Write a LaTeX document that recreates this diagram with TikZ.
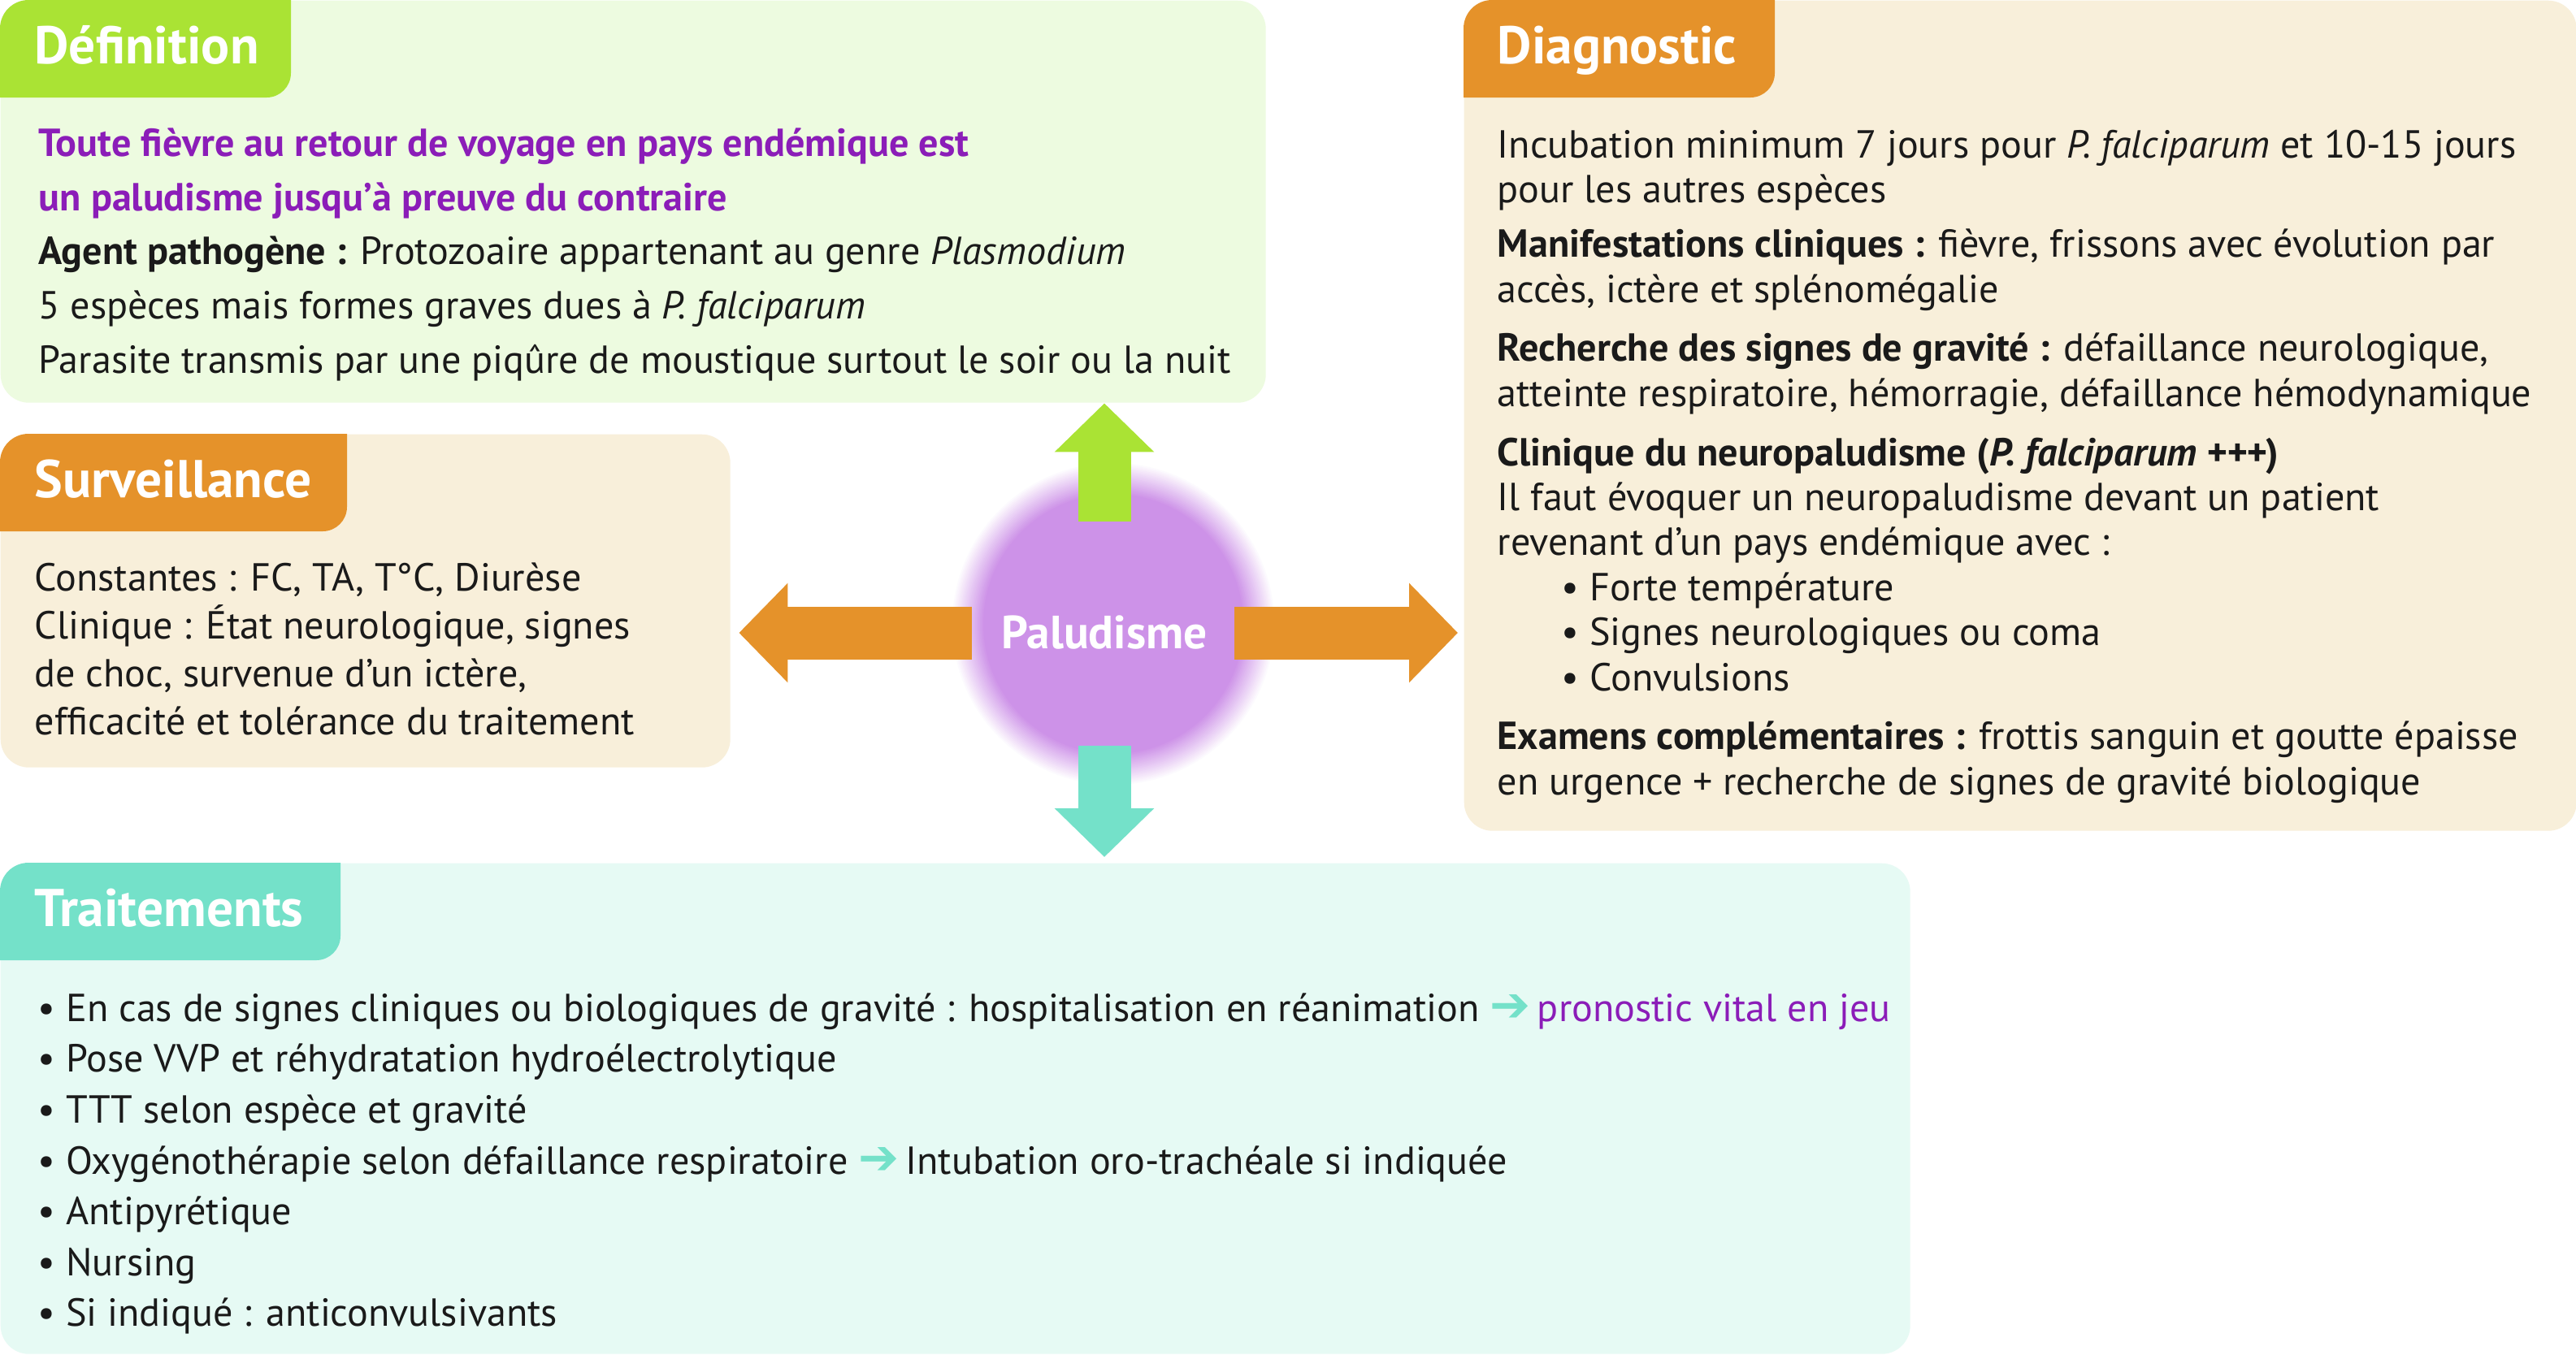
\documentclass[tikz,border=0pt]{standalone}
\usepackage{fontspec}
\setmainfont{PT Sans}
\newfontfamily\symfont{DejaVu Sans}
\usetikzlibrary{arrows.meta,positioning,calc}
\definecolor{ink}{RGB}{26,26,26}
\definecolor{defbg}{RGB}{237,251,224}
\definecolor{deftab}{RGB}{170,227,52}
\definecolor{diagbg}{RGB}{248,239,218}
\definecolor{diagtab}{RGB}{229,146,42}
\definecolor{trtbg}{RGB}{230,250,244}
\definecolor{trttab}{RGB}{116,225,201}
\definecolor{paluv}{RGB}{139,29,184}
\definecolor{halo}{RGB}{205,146,232}
\newcommand{\versarrow}{{\symfont\bfseries\fontsize{17}{15}\selectfont\color{trttab}\char"2794}}
\tikzset{
  panel/.style={rounded corners=3.5mm,anchor=north west,inner sep=0pt},
  tabtext/.style={anchor=base west,text=white,inner sep=0pt,
    font=\fontsize{18.6}{21}\selectfont\bfseries},
  body/.style={anchor=north west,inner sep=0pt,align=left,text=ink},
  fat/.style={line width=6.5mm,-{Triangle[width=11.9mm,length=6mm]}},
}
\begin{document}
\begin{tikzpicture}[x=1cm,y=-1cm]
  \path[use as bounding box,fill=white] (0,0) rectangle (31.70,16.67);
  % panels
  \node[panel,fill=defbg,minimum width=15.57cm,minimum height=4.95cm] (def) at (0,0) {};
  \node[panel,fill=diagbg,minimum width=13.69cm,minimum height=10.22cm] (diag) at (18.01,0) {};
  \node[panel,fill=diagbg,minimum width=8.98cm,minimum height=4.10cm] (surv) at (0,5.34) {};
  \node[panel,fill=trtbg,minimum width=23.50cm,minimum height=6.04cm] (trt) at (0,10.62) {};
  % tabs
  \foreach \p/\c/\w in {def/deftab/3.58,diag/diagtab/3.83,surv/diagtab/4.27,trt/trttab/4.19}{
    \begin{scope}
      \clip[rounded corners=3.5mm] (\p.north west) rectangle (\p.south east);
      \fill[\c,rounded corners=3mm] ($(\p.north west)+(-1,-1)$) rectangle ($(\p.north west)+(\w,1.20)$);
    \end{scope}
  }
  \node[tabtext] (deft) at (0.42,0.78) {Définition};
  \node[tabtext] (diagt) at (18.42,0.78) {Diagnostic};
  \node[tabtext] (survt) at (0.42,6.12) {Surveillance};
  \node[tabtext] (trtt) at (0.42,11.40) {Traitements};
  % texts
  \node[body,font=\fontsize{13.7}{19}\selectfont] (deftxt) at (0.47,1.57)
    {\textcolor{paluv}{\bfseries Toute fièvre au retour de voyage en pays endémique est}\\
     \textcolor{paluv}{\bfseries un paludisme jusqu'à preuve du contraire}\\
     \textbf{Agent pathogène :} Protozoaire appartenant au genre \textit{Plasmodium}\\
     5 espèces mais formes graves dues à \textit{P. falciparum}\\
     Parasite transmis par une piqûre de moustique surtout le soir ou la nuit};
  \node[body,font=\fontsize{13.7}{15.75}\selectfont] (diagtxt) at (18.42,1.59)
    {Incubation minimum 7 jours pour \textit{P. falciparum} et 10-15 jours\\
     pour les autres espèces\\[3.4pt]
     \textbf{Manifestations cliniques :} fièvre, frissons avec évolution par\\
     accès, ictère et splénomégalie\\[5pt]
     \textbf{Recherche des signes de gravité :} défaillance neurologique,\\
     atteinte respiratoire, hémorragie, défaillance hémodynamique\\[5pt]
     \textbf{Clinique du neuropaludisme (\textit{P. falciparum +++})}\\
     Il faut évoquer un neuropaludisme devant un patient\\
     revenant d'un pays endémique avec :\\
     \hspace*{0.79cm}• Forte température\\
     \hspace*{0.79cm}• Signes neurologiques ou coma\\
     \hspace*{0.79cm}• Convulsions\\[5pt]
     \textbf{Examens complémentaires :} frottis sanguin et goutte épaisse\\
     en urgence + recherche de signes de gravité biologique};
  \node[body,font=\fontsize{13.7}{16.8}\selectfont] (survtxt) at (0.42,6.92)
    {Constantes : FC, TA, T°C, Diurèse\\
     Clinique : État neurologique, signes\\
     de choc, survenue d'un ictère,\\
     efficacité et tolérance du traitement};
  \node[body,font=\fontsize{13.7}{17.8}\selectfont] (trttxt) at (0.46,12.22)
    {• En cas de signes cliniques ou biologiques de gravité : hospitalisation en réanimation \versarrow\,\textcolor{paluv}{pronostic vital en jeu}\\
     • Pose VVP et réhydratation hydroélectrolytique\\
     • TTT selon espèce et gravité\\
     • Oxygénothérapie selon défaillance respiratoire \versarrow\,Intubation oro-trachéale si indiquée\\
     • Antipyrétique\\
     • Nursing\\
     • Si indiqué : anticonvulsivants};
  % hub with soft halo
  \foreach \i in {0,...,19}
    \fill[halo!\the\numexpr 5+\i*5\relax!white] (13.70,7.68) circle ({1.98-0.02*\i});
  \node[text=white,font=\fontsize{16.3}{19}\selectfont\bfseries,inner sep=0pt] (hub) at (13.59,7.79) {Paludisme};
  % arrows
  \draw[fat,deftab,shorten <=1.37cm] (hub.center) -- (hub.center |- def.south);
  \draw[fat,diagtab,shorten <=1.60cm,shorten >=0.7mm] (hub.center) -- (hub.center -| diag.west);
  \draw[fat,diagtab,shorten <=1.63cm,shorten >=1mm] (hub.center) -- (hub.center -| surv.east);
  \draw[fat,trttab,shorten <=1.39cm,shorten >=0.7mm] (hub.center) -- (hub.center |- trt.north);
\end{tikzpicture}
\end{document}
